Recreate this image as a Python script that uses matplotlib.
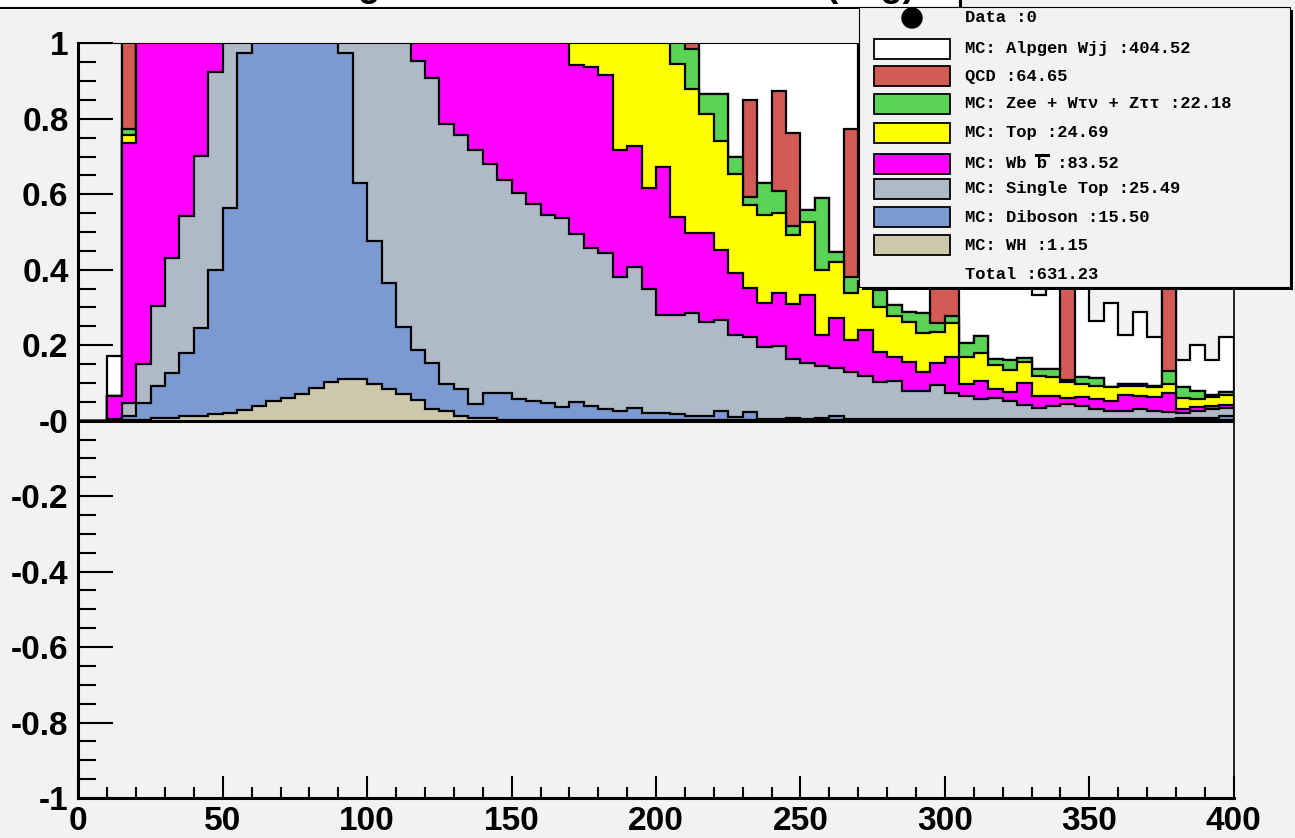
import numpy as np
import matplotlib
matplotlib.use('Agg')
import matplotlib.pyplot as plt
from matplotlib import transforms
from matplotlib.patches import Rectangle, Circle
from matplotlib.lines import Line2D

W, H = 1295, 838
BG = '#f2f2f2'

plt.rcParams['font.family'] = ['Liberation Sans', 'DejaVu Sans']

# 80 bins of width 5 from 0 to 400
edges = np.arange(0, 405, 5)

# per-sample bin contents (stacked bottom -> top)
wh = [0, 0, 0, 0.001, 0.003, 0.006, 0.008, 0.011, 0.013, 0.018,
      0.020, 0.028, 0.040, 0.052, 0.061, 0.071, 0.086, 0.102, 0.110, 0.110,
      0.097, 0.084, 0.071, 0.055, 0.031, 0.026, 0.012, 0.006, 0.006, 0.003,
      0.002, 0.002, 0.002, 0.002, 0.002, 0.002, 0.002, 0.002, 0.002, 0.002,
      0.001, 0.001, 0.001, 0.001, 0.001, 0.001, 0.001, 0.001, 0.001, 0.001,
      0.001, 0.001, 0.001, 0.001, 0.001, 0.001, 0.001, 0.001, 0.001, 0.001,
      0.001, 0.001, 0.001, 0.001, 0.001, 0.001, 0.001, 0.001, 0.001, 0.001,
      0.001, 0.001, 0.001, 0.001, 0.001, 0.001, 0.001, 0.001, 0.001, 0.001]
diboson = [0, 0, 0.002, 0.012, 0.043, 0.086, 0.117, 0.169, 0.233, 0.381,
           0.544, 0.946, 1.20, 1.35, 1.45, 1.45, 1.30, 1.15, 0.864, 0.521,
           0.379, 0.281, 0.178, 0.132, 0.123, 0.071, 0.072, 0.038, 0.068, 0.071,
           0.055, 0.051, 0.046, 0.035, 0.048, 0.038, 0.029, 0.023, 0.032, 0.019,
           0.020, 0.017, 0.012, 0.010, 0.024, 0.008, 0.023, 0.004, 0.004, 0.005,
           0.004, 0.005, 0.010, 0.003, 0.003, 0.003, 0.003, 0.003, 0.003, 0.003,
           0.003, 0.003, 0.003, 0.003, 0.003, 0.003, 0.004, 0.003, 0.003, 0.003,
           0.003, 0.003, 0.003, 0.003, 0.003, 0.003, 0.005, 0.005, 0.007, 0.011]
single_top = [0, 0, 0.002, 0.033, 0.103, 0.211, 0.305, 0.362, 0.455, 0.524,
              0.60, 0.45, 0.30, 0.28, 0.25, 0.25, 0.28, 0.32, 0.50, 0.70,
              0.75, 0.80, 0.80, 0.765, 0.754, 0.688, 0.672, 0.672, 0.605, 0.565,
              0.545, 0.522, 0.496, 0.500, 0.444, 0.417, 0.413, 0.357, 0.374, 0.328,
              0.260, 0.263, 0.273, 0.251, 0.241, 0.218, 0.197, 0.191, 0.193, 0.157,
              0.149, 0.139, 0.128, 0.124, 0.115, 0.098, 0.102, 0.075, 0.075, 0.090,
              0.068, 0.061, 0.053, 0.055, 0.049, 0.038, 0.028, 0.035, 0.040, 0.035,
              0.026, 0.022, 0.022, 0.026, 0.022, 0.020, 0.015, 0.020, 0.022, 0.021]
wbb = [0, 0, 0.062, 0.691, 1.20, 1.10, 1.00, 0.90, 0.80, 0.70,
       0.60, 0.50, 0.40, 0.35, 0.30, 0.30, 0.30, 0.35, 0.40, 0.50,
       0.55, 0.60, 0.60, 0.50, 0.55, 0.60, 0.60, 0.60, 0.60, 0.60,
       0.55, 0.55, 0.55, 0.50, 0.449, 0.481, 0.473, 0.335, 0.320, 0.267,
       0.391, 0.259, 0.211, 0.235, 0.186, 0.165, 0.131, 0.116, 0.139, 0.145,
       0.179, 0.082, 0.133, 0.087, 0.121, 0.081, 0.063, 0.077, 0.051, 0.058,
       0.096, 0.032, 0.048, 0.024, 0.024, 0.059, 0.031, 0.025, 0.015, 0.023,
       0.027, 0.027, 0.042, 0.034, 0.036, 0.048, 0.009, 0.009, 0.009, 0.008]
top = [0, 0, 0, 0.019, 0.02, 0.03, 0.03, 0.04, 0.05, 0.06,
       0.07, 0.08, 0.08, 0.08, 0.09, 0.10, 0.11, 0.12, 0.13, 0.15,
       0.16, 0.18, 0.20, 0.22, 0.24, 0.25, 0.26, 0.27, 0.28, 0.29,
       0.30, 0.30, 0.31, 0.32, 0.33, 0.33, 0.34, 0.35, 0.36, 0.45,
       0.40, 0.405, 0.382, 0.316, 0.288, 0.262, 0.219, 0.232, 0.212, 0.185,
       0.193, 0.172, 0.149, 0.122, 0.130, 0.119, 0.108, 0.106, 0.101, 0.083,
       0.090, 0.072, 0.073, 0.064, 0.057, 0.055, 0.054, 0.052, 0.044, 0.035,
       0.035, 0.035, 0.024, 0.028, 0.026, 0.025, 0.029, 0.022, 0.023, 0.027]
zjets = [0, 0, 0, 0.017, 0.01, 0.01, 0.01, 0.015, 0.015, 0.02,
         0.02, 0.02, 0.02, 0.025, 0.025, 0.03, 0.03, 0.03, 0.035, 0.035,
         0.04, 0.04, 0.045, 0.045, 0.05, 0.05, 0.05, 0.055, 0.055, 0.06,
         0.06, 0.06, 0.065, 0.065, 0.07, 0.07, 0.07, 0.075, 0.075, 0.08,
         0.08, 0.10, 0.105, 0.052, 0.125, 0.045, 0.023, 0.086, 0.059, 0.022,
         0.031, 0.192, 0.025, 0.044, 0.030, 0.044, 0.029, 0.026, 0.053, 0.023,
         0.019, 0.037, 0.046, 0.016, 0.027, 0.011, 0.018, 0.020, 0.006, 0.019,
         0.020, 0.0, 0.005, 0.005, 0.004, 0.035, 0.029, 0.022, 0.006, 0.009]
qcd = [0, 0, 0, 0.50, 0.05, 0.05, 0.05, 0.05, 0.05, 0.05,
       0.05, 0.05, 0.05, 0.05, 0.05, 0.05, 0.05, 0.05, 0.05, 0.05,
       0.04, 0.05, 0.03, 0.04, 0.05, 0.03, 0.04, 0.05, 0.03, 0.04,
       0.05, 0.03, 0.04, 0.05, 0.03, 0.04, 0.05, 0.03, 0.04, 0.05,
       0.03, 0.04, 0.10, 0, 0, 0, 0.257, 0, 0.265, 0.247,
       0, 0, 0, 0.393, 0, 0, 0, 0, 0, 0.25,
       0.20, 0, 0, 0, 0, 0, 0, 0, 0.40, 0,
       0, 0, 0, 0, 0, 0.40, 0, 0, 0, 0]
alpgen = [0, 0, 0.106, 0.40, 0.50, 0.60, 0.70, 0.80, 0.90, 1.00,
          1.10, 1.20, 1.25, 1.30, 1.30, 1.30, 1.25, 1.20, 1.15, 1.10,
          1.05, 1.00, 0.95, 0.90, 0.85, 0.80, 0.78, 0.75, 0.72, 0.70,
          0.68, 0.66, 0.64, 0.62, 0.60, 0.58, 0.56, 0.54, 0.52, 0.50,
          0.48, 0.46, 0.44, 0.42, 0.40, 0.38, 0.36, 0.40, 0.30, 0.35,
          0.50, 0.45, 0.60, 0.35, 0.35, 0.30, 0.28, 0.30, 0.26, 0.10,
          0.10, 0.25, 0.25, 0.30, 0.30, 0.35, 0.197, 0.30, 0.10, 0.30,
          0.153, 0.224, 0.130, 0.191, 0.130, 0.10, 0.072, 0.121, 0.092, 0.145]

colors = ['#ccc8ab', '#7d99d1', '#aebbc7', '#ff00ff', '#ffff00', '#59d454', '#d35b56', '#ffffff']

legend_rows = [
    ('Data :0', None),
    ('MC: Alpgen Wjj :404.52', '#ffffff'),
    ('QCD :64.65', '#d35b56'),
    ('MC: Zee + W\u03c4\u03bd + Z\u03c4\u03c4 :22.18', '#59d454'),
    ('MC: Top :24.69', '#ffff00'),
    ('MC: Wb b :83.52', '#ff00ff'),
    ('MC: Single Top :25.49', '#aebbc7'),
    ('MC: Diboson :15.50', '#7d99d1'),
    ('MC: WH :1.15', '#ccc8ab'),
    ('Total :631.23', None),
]
legend_y = [18, 49, 76, 104, 133, 164, 189, 217, 245, 274]

# only the descenders of the title are inside the canvas
title = 'dPhi between Missing ET and the Lead Jet Axis (deg)'

fig = plt.figure(figsize=(W / 100, H / 100), dpi=100, facecolor=BG)
ax = fig.add_axes([78.3 / W, 1 - 798 / H, 1155.5 / W, 754.7 / H], facecolor=BG)

stack = np.cumsum(np.array([wh, diboson, single_top, wbb, top, zjets, qcd, alpgen]), axis=0)
for i in range(len(colors) - 1, -1, -1):
    ax.stairs(stack[i], edges, baseline=0, fill=True, facecolor=colors[i],
              edgecolor='black', linewidth=1.6, joinstyle='miter')
ax.axhline(0, color='black', lw=2.2)

ax.set_xlim(0, 400)
ax.set_ylim(-1, 1)
ax.set_xticks(np.arange(0, 401, 50))
ax.set_xticks(np.arange(0, 401, 10), minor=True)
yt = np.round(np.arange(-1, 1.01, 0.2), 1)
ax.set_yticks(yt)
ax.set_yticklabels(['-1', '-0.8', '-0.6', '-0.4', '-0.2', '-0', '0.2', '0.4', '0.6', '0.8', '1'])
ax.set_yticks(np.arange(-1, 1.001, 0.05), minor=True)
ax.tick_params(axis='y', which='major', direction='in', length=25, width=1.5, pad=7,
               labelsize=24)
ax.tick_params(axis='y', which='minor', direction='in', length=12.7, width=1.5)
ax.tick_params(axis='x', which='major', direction='in', length=15.8, width=1.5, pad=5.5,
               labelsize=24)
ax.tick_params(axis='x', which='minor', direction='in', length=7.9, width=1.5)
for lab in ax.get_xticklabels() + ax.get_yticklabels():
    lab.set_fontweight('bold')
ax.spines['left'].set_linewidth(2.2)
ax.spines['bottom'].set_linewidth(2.2)
ax.spines['top'].set_linewidth(0.8)
ax.spines['right'].set_linewidth(1.2)

# pixel coordinates, origin top-left
pix = transforms.Affine2D().scale(1.0 / W, -1.0 / H).translate(0, 1) + fig.transFigure

# title box (mostly cut off at the top of the canvas)
fig.add_artist(Rectangle((-2, -17), 964, 26, transform=pix, fc='black', ec='none'))
fig.add_artist(Rectangle((-5, -20), 964, 27, transform=pix, fc='white', ec='black', lw=0.8))
fig.text(915, -4, title, transform=pix, ha='right', va='baseline',
         fontsize=26, fontweight='bold')

# legend
fig.add_artist(Rectangle((862, 10), 431, 280, transform=pix, fc='black', ec='none'))
fig.add_artist(Rectangle((859, 7), 431, 280, transform=pix, fc=BG, ec='black', lw=0.8))
mono = ['Liberation Mono', 'DejaVu Sans Mono']
for (label, col), yc in zip(legend_rows, legend_y):
    if col is not None:
        fig.add_artist(Rectangle((874, yc - 10), 76, 20, transform=pix, fc=col,
                                 ec='black', lw=1.3))
    fig.text(965, yc, label, transform=pix, ha='left', va='center',
             fontsize=12.3, fontweight='bold', family=mono)
fig.add_artist(Circle((912, 18), 10, transform=pix, fc='black', ec='black'))
fig.add_artist(Line2D([1036, 1048], [155, 155], transform=pix, color='black', lw=2.2))

fig.savefig('out.png', dpi=100, facecolor=BG)
